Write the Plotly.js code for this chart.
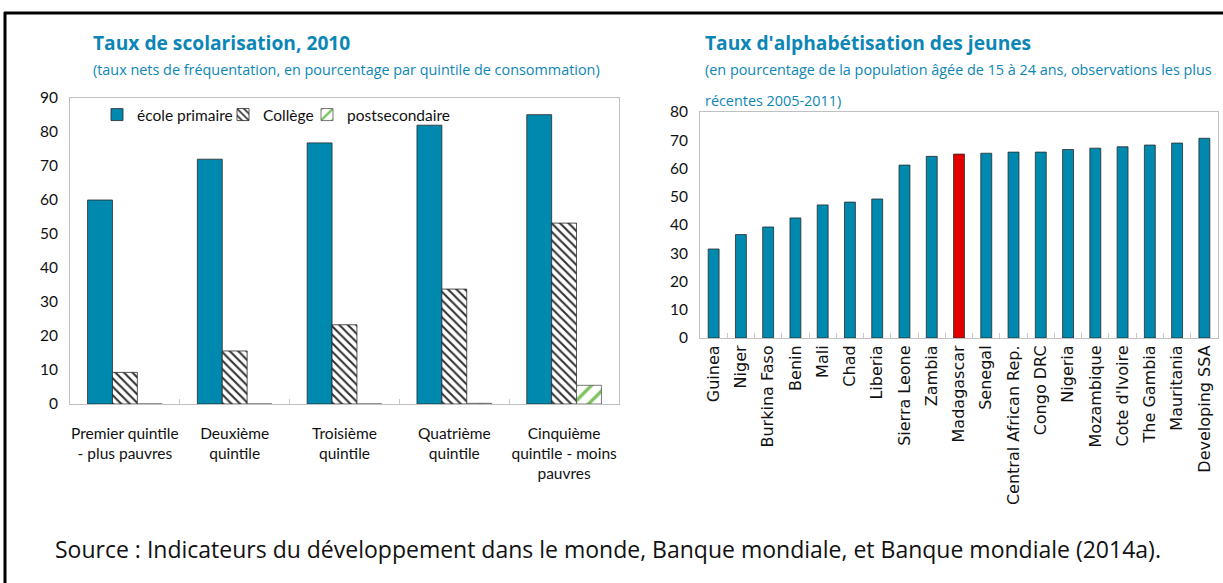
<!DOCTYPE html>
<html><head><meta charset="utf-8">
<script src="https://cdn.plot.ly/plotly-3.0.1.min.js"></script>
<style>html,body{margin:0;padding:0;background:#fff}#chart{width:1223px;height:583px}</style>
</head><body><div id="chart"></div>
<script>
// ---- Data: left chart (Taux de scolarisation, 2010) ----
const quintiles = ["Premier quintile<br>- plus pauvres", "Deuxième<br>quintile", "Troisième<br>quintile", "Quatrième<br>quintile", "Cinquième<br>quintile - moins<br>pauvres"];
const primaire = [60, 72, 76.8, 82, 85.1];
const college = [9.3, 15.6, 23.3, 33.8, 53.2];
const postsecondaire = [0, 0, 0, 0.2, 5.5];
const seriesNames = ["école primaire", "Collège", "postsecondaire"];

// ---- Data: right chart (Taux d'alphabétisation des jeunes) ----
const pays = ["Guinea", "Niger", "Burkina Faso", "Benin", "Mali", "Chad", "Liberia", "Sierra Leone", "Zambia", "Madagascar", "Senegal", "Central African Rep.", "Congo DRC", "Nigeria", "Mozambique", "Cote d'Ivoire", "The Gambia", "Mauritania", "Developing SSA"];
const alphabetisation = [31.5, 36.6, 39.3, 42.5, 47.1, 48.1, 49.2, 61.2, 64.3, 65.1, 65.4, 65.8, 65.8, 66.7, 67.2, 67.7, 68.3, 69.0, 70.7];
const highlight = "Madagascar";

const teal = "#0089AF", red = "#E00000", titleCol = "#0C86B6";
const barColors = pays.map(p => p === highlight ? red : teal);

const traces = [
  {type:"bar", x:quintiles, y:primaire, name:seriesNames[0], xaxis:"x", yaxis:"y", legend:"legend",
   marker:{color:teal, line:{color:"#2a2a2a", width:0.8}}},
  {type:"bar", x:quintiles, y:college, name:seriesNames[1], xaxis:"x", yaxis:"y", legend:"legend2",
   marker:{color:"#ffffff", line:{color:"#2a2a2a", width:0.8},
           pattern:{shape:"\\", fgcolor:"#333333", bgcolor:"#ffffff", size:6, solidity:0.35}}},
  {type:"bar", x:quintiles, y:postsecondaire, name:seriesNames[2], xaxis:"x", yaxis:"y", legend:"legend3",
   marker:{color:"#ffffff", line:{color:"#555555", width:0.8},
           pattern:{shape:"/", fgcolor:"#7CC35F", bgcolor:"#ffffff", size:11, solidity:0.3}}},
  {type:"bar", x:pays, y:alphabetisation, xaxis:"x2", yaxis:"y2", showlegend:false, width:0.4,
   marker:{color:barColors, line:{color:"#2a2a2a", width:0.8}}}
];

const W = 1223, H = 583;
const px = v => v / W, py = v => 1 - v / H;
const tickFont = {family:"Lato, sans-serif", size:15.5, color:"#111"};
const txt = "Open Sans, sans-serif";
const legFont = {family:"Lato, sans-serif", size:15.5, color:"#111"};
const mkLegend = x => ({orientation:"h", x:px(x), y:py(98), xanchor:"left", yanchor:"top",
          font:legFont, bgcolor:"rgba(0,0,0,0)", itemwidth:30});

const layout = {
  width:W, height:H, margin:{l:0, r:0, t:0, b:0},
  paper_bgcolor:"#fff", plot_bgcolor:"#fff",
  barmode:"group", bargap:0.32, bargroupgap:0,
  showlegend:true,
  legend:mkLegend(97), legend2:mkLegend(223), legend3:mkLegend(307),
  xaxis:{domain:[px(70), px(619)], anchor:"y", type:"category",
         showline:true, linecolor:"#c0c0c0", mirror:true, linewidth:1,
         ticks:"inside", tickson:"boundaries", ticklen:5, tickcolor:"#c8c8c8",
         tickangle:0, tickfont:{family:"Lato, sans-serif", size:15.5, color:"#111"}, showgrid:false,
         ticklabelstandoff:15},
  yaxis:{domain:[1-404/H, 1-98/H], anchor:"x", range:[0,90], dtick:10,
         showline:true, linecolor:"#c0c0c0", mirror:true, linewidth:1,
         ticks:"", showgrid:false, zeroline:false, tickfont:tickFont, ticklabelstandoff:8},
  xaxis2:{domain:[px(700), px(1218)], anchor:"y2", type:"category",
          showline:true, linecolor:"#c0c0c0", mirror:true, linewidth:1,
          ticks:"inside", tickson:"boundaries", ticklen:5, tickcolor:"#c8c8c8",
          tickangle:-90, tickfont:{family:"DejaVu Sans, sans-serif", size:16, color:"#111"}, showgrid:false},
  yaxis2:{domain:[1-338/H, 1-112/H], anchor:"x2", range:[0,80], dtick:10,
          showline:true, linecolor:"#c0c0c0", mirror:true, linewidth:1,
          ticks:"", showgrid:false, zeroline:false, tickfont:tickFont, ticklabelstandoff:8},
  annotations:[
    {xref:"paper", yref:"paper", x:px(91), y:py(42), xanchor:"left", yanchor:"middle", showarrow:false,
     text:"<b>Taux de scolarisation, 2010</b>", font:{family:txt, size:19.2, color:titleCol}},
    {xref:"paper", yref:"paper", x:px(91), y:py(70), xanchor:"left", yanchor:"middle", showarrow:false,
     text:"(taux nets de fréquentation, en pourcentage par quintile de consommation)", font:{family:txt, size:14.4, color:titleCol}},
    {xref:"paper", yref:"paper", x:px(703), y:py(42), xanchor:"left", yanchor:"middle", showarrow:false,
     text:"<b>Taux d'alphabétisation des jeunes</b>", font:{family:txt, size:19.2, color:titleCol}},
    {xref:"paper", yref:"paper", x:px(703), y:py(70), xanchor:"left", yanchor:"middle", showarrow:false,
     text:"(en pourcentage de la population âgée de 15 à 24 ans, observations les plus", font:{family:txt, size:14.4, color:titleCol}},
    {xref:"paper", yref:"paper", x:px(703), y:py(100), xanchor:"left", yanchor:"middle", showarrow:false,
     text:"récentes 2005-2011)", font:{family:txt, size:14.4, color:titleCol}},
    {xref:"paper", yref:"paper", x:px(53), y:py(549), xanchor:"left", yanchor:"middle", showarrow:false,
     text:"Source : Indicateurs du développement dans le monde, Banque mondiale, et Banque mondiale (2014a).", font:{family:txt, size:23, color:"#111"}}
  ],
  shapes:[
    {type:"line", xref:"paper", yref:"paper", x0:px(4), x1:1, y0:py(13), y1:py(13), line:{color:"#000", width:3}},
    {type:"line", xref:"paper", yref:"paper", x0:px(5), x1:px(5), y0:py(12), y1:0, line:{color:"#000", width:3}}
  ]
};

Plotly.newPlot("chart", traces, layout, {displayModeBar:false, staticPlot:true});
</script></body></html>
